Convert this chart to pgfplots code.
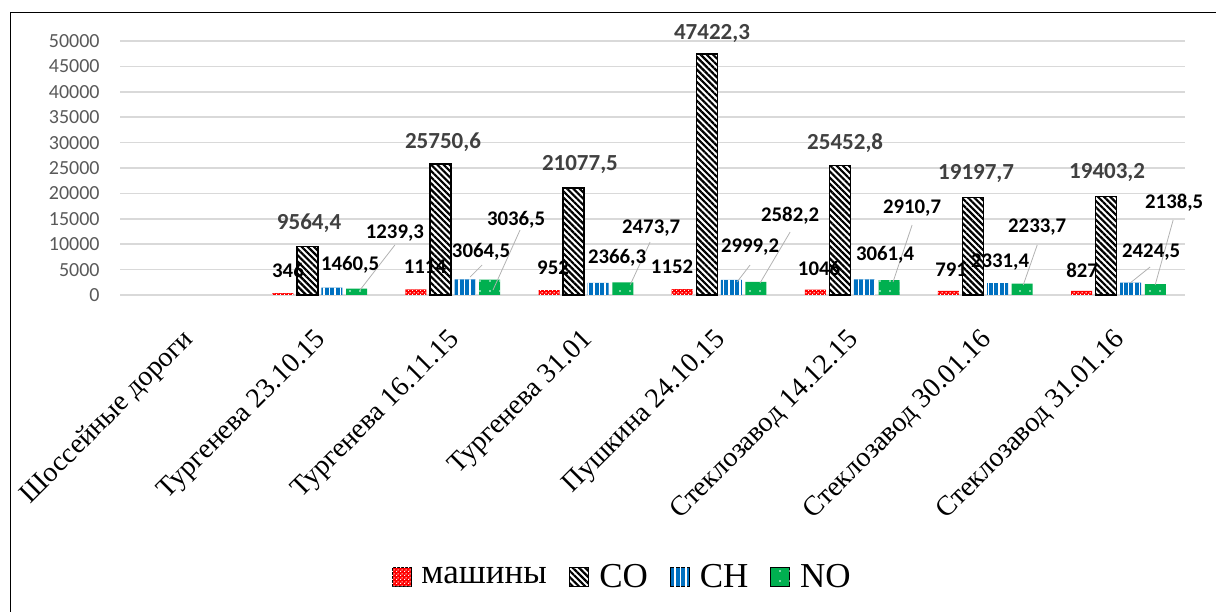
\documentclass[border=0pt]{standalone}
\usepackage{fontspec}
\setmainfont{Liberation Serif}
\newfontfamily\calibri{Carlito}
\newfontfamily\tnr{Liberation Serif}
\usepackage{pgfplots}
\pgfplotsset{compat=1.18}
\usetikzlibrary{patterns,patterns.meta}

\pgfdeclarepatternformonly{smallchecker}{\pgfpointorigin}{\pgfqpoint{2pt}{2pt}}{\pgfqpoint{2pt}{2pt}}{%
  \pgfpathrectangle{\pgfpointorigin}{\pgfqpoint{0.6pt}{0.6pt}}%
  \pgfpathrectangle{\pgfqpoint{1pt}{1pt}}{\pgfqpoint{0.6pt}{0.6pt}}%
  \pgfusepath{fill}}

\definecolor{cred}{HTML}{FF0000}
\definecolor{cblue}{HTML}{0070C0}
\definecolor{cgreen}{HTML}{00B050}
\definecolor{gridc}{HTML}{D9D9D9}
\definecolor{tickc}{HTML}{595959}
\definecolor{colab}{HTML}{404040}

\pgfplotsset{
  sqlegend/.style={legend image code/.code={\draw[##1] (0pt,-4.75pt) rectangle (9.5pt,4.75pt);}},
}

\newcommand{\blab}[3]{\node[font=\calibri\bfseries\fontsize{10.4}{12}\selectfont, inner sep=0pt] at (axis cs:#1,#2) {#3};}
\newcommand{\glab}[3]{\node[font=\calibri\bfseries\fontsize{11.5}{13}\selectfont, text=colab, inner sep=0pt] at (axis cs:#1,#2) {#3};}
\newcommand{\lline}[4]{\draw[color=black!30, line width=0.4pt] (axis cs:#1,#2) -- (axis cs:#3,#4);}

\begin{document}
\begin{tikzpicture}
\useasboundingbox (0pt,0pt) rectangle (608pt,305.5pt);
\draw[line width=0.8pt] (5.25pt,-5pt) -- (5.25pt,299.25pt) -- (615pt,299.25pt);
\begin{axis}[
  at={(60pt,158pt)}, anchor=south west,
  width=532.5pt, height=127pt, scale only axis,
  clip=false,
  xmin=-0.5, xmax=7.5, ymin=0, ymax=50000,
  xtick={0,1,2,3,4,5,6,7},
  xticklabels={Шоссейные дороги, Тургенева 23.10.15, Тургенева 16.11.15, Тургенева 31.01, Пушкина 24.10.15, Стеклозавод 14.12.15, Стеклозавод 30.01.16, Стеклозавод 31.01.16},
  xticklabel style={xshift=1.5pt, yshift=-16pt, rotate=45, anchor=east, inner sep=0pt, font=\tnr\fontsize{14}{16}\selectfont},
  ytick={0,5000,...,50000},
  scaled y ticks=false,
  /pgf/number format/1000 sep={},
  /pgf/number format/assume math mode=true,
  yticklabel style={font=\calibri\fontsize{10}{12}\selectfont, text=tickc, anchor=east, inner sep=0pt, xshift=-10pt},
  ymajorgrids, major grid style={color=gridc, line width=0.75pt},
  axis line style={draw=none},
  major tick style={draw=none},
  ybar, bar width=0.158,
  legend columns=4,
  legend style={at={(0.4725,-1.11)}, anchor=center, draw=none, fill=none,
    font=\tnr\mdseries\fontsize{17.5}{20}\selectfont,
    /tikz/every odd column/.append style={column sep=3pt},
    /tikz/every even column/.append style={column sep=9pt}},
]
\addplot[sqlegend, bar shift=-0.277, draw=none, fill=cred, postaction={pattern=smallchecker, pattern color=white}]
  coordinates {(1,346) (2,1114) (3,952) (4,1152) (5,1046) (6,791) (7,827)};
\addplot[sqlegend, bar shift=-0.092, draw=black, line width=0.75pt, fill=white, postaction={pattern={Lines[angle=-45,distance=2.2pt,line width=1.1pt]}, pattern color=black}]
  coordinates {(1,9564.4) (2,25750.6) (3,21077.5) (4,47422.3) (5,25452.8) (6,19197.7) (7,19403.2)};
\addplot[sqlegend, bar shift=0.092, draw=none, fill=cblue, postaction={pattern={Lines[angle=90,distance=2.7pt,line width=0.7pt]}, pattern color=white}]
  coordinates {(1,1460.5) (2,3064.5) (3,2366.3) (4,2999.2) (5,3061.4) (6,2331.4) (7,2424.5)};
\addplot[sqlegend, bar shift=0.277, draw=none, fill=cgreen, postaction={pattern={Dots[distance=5pt,radius=0.45pt]}, pattern color=white}]
  coordinates {(1,1239.3) (2,3036.5) (3,2473.7) (4,2582.2) (5,2910.7) (6,2233.7) (7,2138.5)};
\addlegendentry{\tnr\mdseries машины}
\addlegendentry{\tnr\mdseries CO}
\addlegendentry{\tnr\mdseries CH}
\addlegendentry{\tnr\mdseries NO}

\lline{1.565}{9843}{1.303}{984}
\lline{2.220}{5906}{2.130}{3543}
\lline{2.505}{12795}{2.302}{984}
\lline{3.482}{10433}{3.332}{1969}
\lline{4.233}{5906}{4.135}{2559}
\lline{4.534}{12402}{4.308}{2362}
\lline{5.450}{13780}{5.307}{2559}
\lline{6.390}{9843}{6.285}{1969}
\lline{7.238}{5512}{7.088}{2362}
\lline{7.411}{14764}{7.276}{1969}

\blab{0.762}{4921}{346}
\glab{0.920}{14173}{9564,4}
\blab{1.228}{5906}{1460,5}
\blab{1.565}{12205}{1239,3}

\blab{1.791}{5512}{1114}
\glab{1.926}{30118}{25750,6}
\blab{2.212}{8465}{3064,5}
\blab{2.475}{14764}{3036,5}

\blab{2.753}{5315}{952}
\glab{2.955}{25591}{21077,5}
\blab{3.234}{7283}{2366,3}
\blab{3.490}{13189}{2473,7}

\blab{3.647}{5512}{1152}
\glab{3.947}{51378}{47422,3}
\blab{4.233}{9449}{2999,2}
\blab{4.534}{15551}{2582,2}

\blab{4.751}{5315}{1046}
\glab{4.947}{29921}{25452,8}
\blab{5.247}{7874}{3061,4}
\blab{5.450}{17126}{2910,7}

\blab{5.743}{4921}{791}
\glab{5.931}{23819}{19197,7}
\blab{6.111}{6496}{2331,4}
\blab{6.390}{13386}{2233,7}

\blab{6.727}{4921}{827}
\glab{6.915}{24016}{19403,2}
\blab{7.246}{8465}{2424,5}
\blab{7.419}{18110}{2138,5}
\end{axis}
\end{tikzpicture}
\end{document}
